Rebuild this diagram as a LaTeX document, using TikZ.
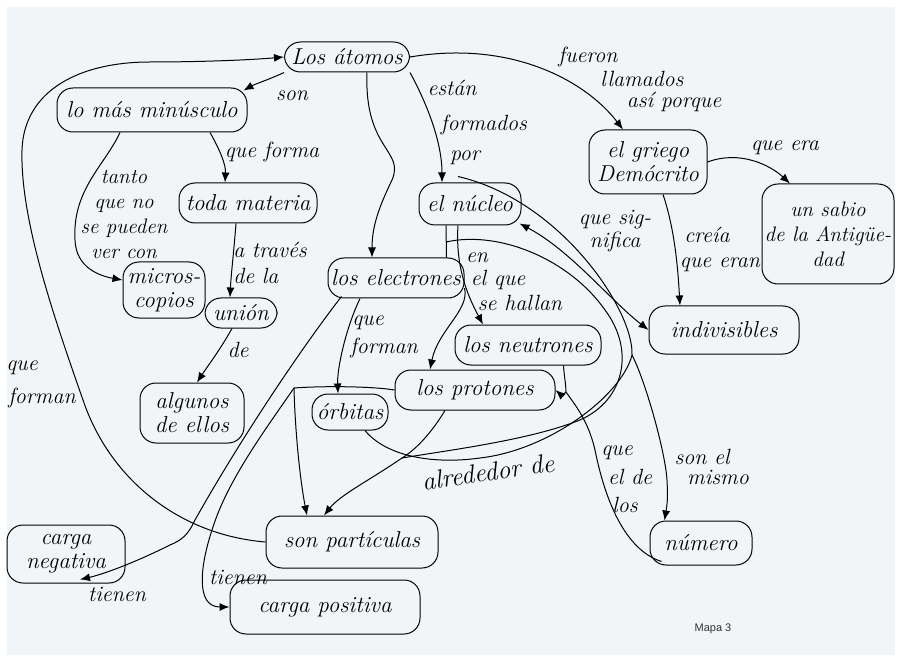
\documentclass[tikz,border=0pt]{standalone}
\usepackage{fontspec}
\newfontfamily\mapasans{Liberation Sans}
\usetikzlibrary{arrows.meta,calc}
\definecolor{paper}{RGB}{242,245,247}
\begin{document}
\begin{tikzpicture}[x=1pt,y=-1pt,
  box/.style={draw, line width=1pt, rounded corners=16pt, inner sep=2pt, align=center,
    font=\fontsize{23}{24}\selectfont\itshape},
  lab/.style={inner sep=0pt, align=center, font=\fontsize{22}{23}\selectfont\itshape},
  con/.style={line width=1pt, -{Latex[length=10pt,width=8pt]}},
  dcon/.style={line width=1pt, {Latex[length=10pt,width=8pt]}-{Latex[length=10pt,width=8pt]}},
  ln/.style={line width=1pt},
]
\useasboundingbox (0,0) rectangle (902,660);
\fill[white] (0,0) rectangle (902,660);
\fill[paper] (7,7) rectangle (895,655);

% ---------- concept nodes ----------
\node[box, minimum width=125pt, minimum height=30pt] (atomos) at (347,57) {Los átomos};
\node[box, minimum width=190pt, minimum height=44pt] (minusculo) at (152,110) {lo más minúsculo};
\node[box, minimum width=138pt, minimum height=40pt] (materia) at (248,203) {toda materia};
\node[box, minimum width=82pt, minimum height=56pt] (micros) at (164,290) {micros-\\copios};
\node[box, minimum width=72pt, minimum height=30pt] (union) at (241,313) {unión};
\node[box, minimum width=104pt, minimum height=60pt] (algunos) at (192,413) {algunos\\de ellos};
\node[box, minimum width=102pt, minimum height=42pt] (nucleo) at (470,204) {el núcleo};
\node[box, minimum width=136pt, minimum height=40pt] (electrones) at (396,278) {los electrones};
\node[box, minimum width=146pt, minimum height=40pt] (neutrones) at (528,345) {los neutrones};
\node[box, minimum width=160pt, minimum height=40pt] (protones) at (475,390) {los protones};
\node[box, minimum width=76pt, minimum height=36pt] (orbitas) at (350,412) {órbitas};
\node[box, minimum width=118pt, minimum height=64pt] (griego) at (648,162) {el griego\\Demócrito};
\node[box, minimum width=132pt, minimum height=100pt, font=\fontsize{21}{25}\selectfont\itshape] (sabio) at (828,234) {un sabio\\de la Antigüe-\\dad};
\node[box, minimum width=150pt, minimum height=48pt] (indivisibles) at (724,330) {indivisibles};
\node[box, minimum width=172pt, minimum height=52pt] (particulas) at (352,542) {son partículas};
\node[box, minimum width=118pt, minimum height=58pt] (negativa) at (66,554) {carga\\negativa};
\node[box, minimum width=190pt, minimum height=54pt] (positiva) at (325,607) {carga positiva};
\node[box, minimum width=102pt, minimum height=44pt] (numero) at (701,543) {número};

% ---------- junction points ----------
\coordinate (j1) at (294,388);
\coordinate (jn) at (566,392);
\coordinate (jl) at (632,355);
\coordinate (ji) at (446,242);
\coordinate (jb) at (402,458);

% ---------- connectors ----------
\draw[con] (atomos.south west) .. controls (268,80) and (255,84) .. ($(minusculo.north east)+(-4,3)$);
\draw[con] (atomos.south east) .. controls (425,100) and (442,140) .. ($(nucleo.north)+(-28,0)$);
\draw[con] ($(atomos.south)+(20,0)$) .. controls (364,150) and (405,150) .. (392,180)
   .. controls (380,205) and (372,225) .. ($(electrones.north)+(-24,0)$);
\draw[con] (atomos.east) .. controls (510,40) and (585,80) .. ($(griego.north)+(-25,0)$);
\draw[con] ($(minusculo.south)+(58,0)$) .. controls (220,150) and (226,165) .. ($(materia.north)+(-23,0)$);
\draw[con] ($(minusculo.south)+(-32,0)$) .. controls (105,165) and (72,190) .. (75,240)
   .. controls (76,268) and (100,276) .. ($(micros.west)+(0,-10)$);
\draw[con] ($(materia.south)+(-12,0)$) .. controls (234,250) and (231,275) .. ($(union.north)+(-11,0)$);
\draw[con] ($(union.south)+(-9,0)$) .. controls (220,350) and (205,370) .. ($(algunos.north)+(5,0)$);
\draw[con] (griego.east) .. controls (740,150) and (770,165) .. ($(sabio.north)+(-38,0)$);
\draw[con] ($(griego.south)+(15,0)$) .. controls (675,230) and (678,270) .. ($(indivisibles.north)+(-44,0)$);
\draw[dcon] ($(nucleo.south east)+(-2,-2)$) .. controls (570,250) and (610,300) .. (indivisibles.west);
\draw[con] ($(nucleo.south)+(-12,0)$) .. controls (455,270) and (470,300) .. ($(neutrones.north)+(-45,0)$);
\draw[ln] ($(nucleo.south)+(-24,0)$) -- ($(electrones.north east)+(-18,0)$);
\draw[con] ($(electrones.east)+(0,10)$) .. controls (470,310) and (438,330) .. ($(protones.north)+(-45,0)$);
\draw[con] ($(electrones.south)+(-36,0)$) .. controls (345,330) and (337,370) .. ($(orbitas.north)+(-12,0)$);
% electrones -> carga negativa
\draw[con] ($(electrones.south west)+(14,-2)$) .. controls (300,350) and (240,440) .. (195,520)
   .. controls (188,535) and (182,540) .. (170,545) .. controls (130,565) and (100,575) .. ($(negativa.south)+(14,-4)$);
% protones -> son particulas / carga positiva
\draw[ln] (protones.west) .. controls (370,386) and (320,386) .. (j1);
\draw[con] (j1) .. controls (295,430) and (300,480) .. ($(particulas.north)+(-45,0)$);
\draw[con] (j1) .. controls (265,430) and (228,480) .. (213,527)
   .. controls (200,565) and (195,607) .. (positiva.west);
\draw[con] ($(protones.south)+(-30,0)$) .. controls (430,435) and (415,450) .. (jb)
   .. controls (370,480) and (340,495) .. ($(particulas.north)+(-28,0)$);
% son particulas -> que forman -> Los atomos
\draw[con] (particulas.west) .. controls (180,535) and (110,480) .. (83,400)
   .. controls (55,320) and (20,220) .. (22,150) .. controls (24,90) and (80,62) .. (150,62)
   .. controls (200,62) and (250,60) .. (atomos.west);
% loops around the nucleus
\draw[ln] ($(orbitas.south)+(15,0)$) .. controls (385,455) and (430,465) .. (480,458)
   .. controls (550,450) and (622,395) .. (jl)
   .. controls (634,310) and (560,200) .. ($(nucleo.north)+(-12,-6)$);
\draw[ln] (ji) .. controls (500,230) and (570,260) .. (605,310)
   .. controls (635,350) and (625,400) .. (580,420) .. controls (530,440) and (450,450) .. (jb);
% neutrones -> protones, and the lines to numero
\draw[ln] ($(neutrones.south east)+(-38,0)$) .. controls (564,375) and (566,385) .. (jn);
\draw[con] (jn) .. controls (563,396) and (560,394) .. (protones.east);
\draw[ln] (jn) .. controls (575,405) and (588,420) .. (595,450)
   .. controls (605,500) and (625,550) .. ($(numero.south west)+(12,-4)$);
\draw[con] (jl) .. controls (645,380) and (665,450) .. (667,480)
   .. controls (668,500) and (667,505) .. ($(numero.north west)+(15,0)$);

% ---------- connector labels ----------
\node[lab] (lson) at (292,96) {son};
\node[lab] (lest1) at (452,88) {están};
\node[lab] (lest2) at (484,125) {formados};
\node[lab] (lest3) at (465,158) {por};
\node[lab] (lfue1) at (588,57) {fueron};
\node[lab] (lfue2) at (642,79) {llamados};
\node[lab] (lfue3) at (674,102) {así porque};
\node[lab] (lqf) at (272,152) {que forma};
\node[lab, font=\fontsize{21}{25}\selectfont\itshape] (ltanto) at (124,215) {tanto\\que no\\se pueden\\ver con};
\node[lab, align=left, font=\fontsize{22}{26}\selectfont\itshape] (ltraves) at (270,263) {a través\\de la};
\node[lab] (lde) at (238,350) {de};
\node[lab] (lera) at (785,148) {que era};
\node[lab, font=\fontsize{22}{23}\selectfont\itshape] (lsig) at (615,231) {que sig-\\nifica};
\node[lab] (lcre1) at (707,235) {creía};
\node[lab] (lcre2) at (720,265) {que eran};
\node[lab] (len1) at (477,258) {en};
\node[lab] (len2) at (498,280) {el que};
\node[lab] (len3) at (520,303) {se hallan};
\node[lab] (lfor1) at (368,323) {que};
\node[lab] (lfor2) at (384,348) {forman};
\node[lab, rotate=8, font=\fontsize{26}{27}\selectfont\itshape] (lalr) at (488,472) {alrededor de};
\node[lab] (lqel1) at (617,453) {que};
\node[lab] (lqel2) at (630,477) {el de};
\node[lab] (lqel3) at (625,505) {los};
\node[lab] (lmis1) at (702,457) {son el};
\node[lab] (lmis2) at (718,477) {mismo};
\node[lab] (lqf1) at (22,368) {que};
\node[lab] (lqf2) at (42,398) {forman};
\node[lab] (lt1) at (117,594) {tienen};
\node[lab] (lt2) at (238,577) {tienen};

\node[inner sep=0pt, font=\mapasans\fontsize{11}{13}\selectfont, text=black!80] (mapa) at (713,629) {Mapa 3};
\end{tikzpicture}
\end{document}
